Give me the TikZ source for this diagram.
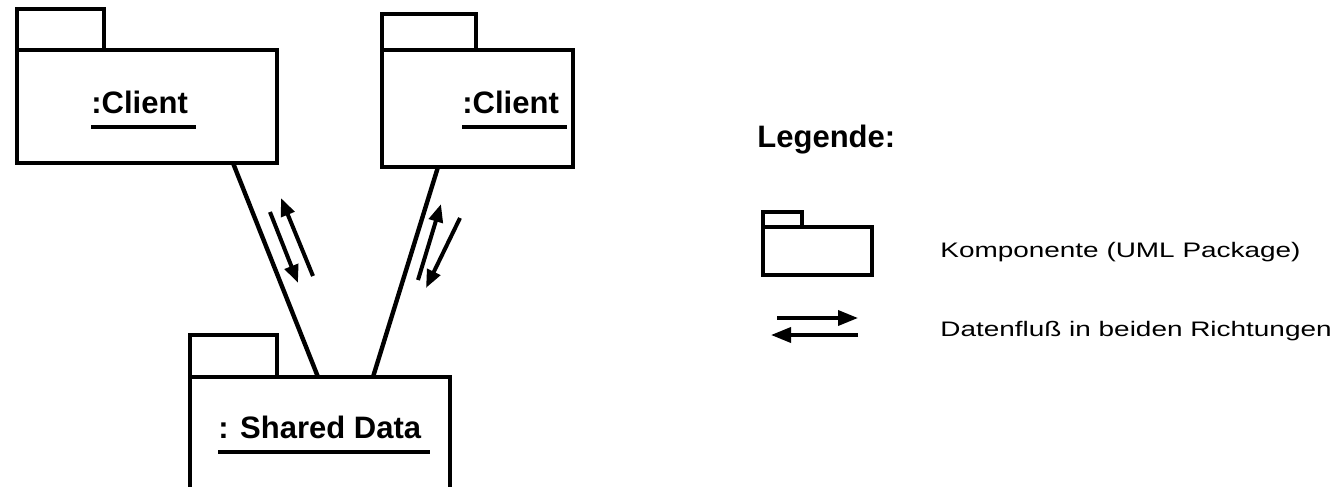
\documentclass[tikz,border=0pt]{standalone}
\usepackage{fontspec}
\setmainfont{Liberation Sans}
\newfontfamily\legendfont[FakeStretch=1.33]{Liberation Sans}
\usepackage{tikz}
\usetikzlibrary{positioning,arrows.meta}

% tab on top of a package box: node, tab width, tab height
\newcommand{\pkgtab}[4][]{\draw[pkgline,#1] (#2.north west) -- ++(0,-#4) -- ++(#3,0) -- ++(0,#4);}

\tikzset{
  pkgline/.style={line width=2pt, line join=miter},
  pkg/.style={draw, pkgline, rectangle, inner sep=0pt, outer sep=0pt},
  pkgname/.style={anchor=base west, inner sep=0pt, font=\bfseries\fontsize{15.5}{18}\selectfont},
  uline/.style={line width=1.8pt},
  link/.style={line width=2.2pt},
  flow/.style={line width=2pt, -{Triangle[length=9pt,width=7pt]}},
  legtext/.style={anchor=base west, inner sep=0pt, font=\legendfont\fontsize{10.5}{12}\selectfont}
}

\begin{document}
\begin{tikzpicture}[x=0.5pt, y=-0.5pt]
  \clip (0,0) rectangle (1335,487);

  % packages
  \node[pkg, minimum width=130pt, minimum height=56.5pt] (client1) at (147,106.5) {};
  \node[pkg, minimum width=95.5pt, minimum height=58.5pt] (client2) at (477.5,108.5) {};
  \node[pkg, minimum width=130pt, minimum height=57.5pt] (shared) at (320,434.5) {};
  \pkgtab{client1}{87}{41}
  \pkgtab{client2}{94}{36}
  \pkgtab{shared}{87}{42}

  \node[pkgname] (client1name) at (91,113) {:Client};
  \node[pkgname] (client2name) at (462,113) {:Client};
  \node[pkgname] (sharedname) at (218,438) {: Shared Data};
  \foreach \n in {client1name,client2name,sharedname}
    \draw[uline] ([yshift=-7pt]\n.base west) -- ([xshift=4pt,yshift=-7pt]\n.base east);

  \draw[link] ([xshift=-22pt]client1.south east) -- ([xshift=-66pt]shared.north east);
  \draw[link] ([xshift=28pt]client2.south west) -- ([xshift=-38.5pt]shared.north east);

  % data flow both ways
  \draw[flow] (270,212) -- (298,283);
  \draw[flow] (313,276) -- (281,198);
  \draw[flow] (418,280) -- (441,204);
  \draw[flow] (460,218) -- (426,288);

  % legend
  \node[pkgname] (legtitle) at (757,147) {Legende:};
  \node[pkg, line width=1.8pt, minimum width=54.5pt, minimum height=24pt] (legpkg) at (817.5,251) {};
  \pkgtab[line width=1.8pt]{legpkg}{39}{15}
  \node[legtext] (legpkgtext) at (940,257) {Komponente (UML Package)};

  \coordinate (legfrom) at (777,318);
  \coordinate (legto) at (858,318);
  \draw[flow, line width=1.8pt, -{Triangle[length=10pt,width=7.5pt]}] (legfrom) -- (legto);
  \draw[flow, line width=1.8pt, -{Triangle[length=10pt,width=7.5pt]}] ([yshift=-8.5pt]legto) -- ([xshift=-3pt,yshift=-8.5pt]legfrom);
  \node[legtext] (legflowtext) at (940,336) {Datenfluß in beiden Richtungen};
\end{tikzpicture}
\end{document}
